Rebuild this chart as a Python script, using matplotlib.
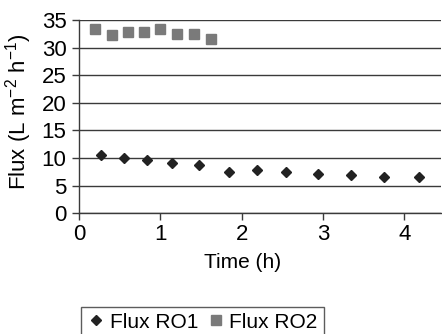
import matplotlib
matplotlib.use("Agg")
import matplotlib.pyplot as plt

plt.rcParams['font.family'] = ['Liberation Sans', 'DejaVu Sans']
plt.rcParams['mathtext.default'] = 'regular'

# Data
time_ro1 = [0.27, 0.55, 0.84, 1.14, 1.47, 1.85, 2.19, 2.55, 2.94, 3.35, 3.75, 4.18]
flux_ro1 = [10.6, 10.0, 9.6, 9.1, 8.7, 7.5, 7.8, 7.5, 7.2, 6.9, 6.6, 6.6]
time_ro2 = [0.20, 0.40, 0.60, 0.80, 1.00, 1.21, 1.41, 1.62]
flux_ro2 = [33.3, 32.2, 32.8, 32.8, 33.4, 32.5, 32.5, 31.6]

series_labels = ['Flux RO1', 'Flux RO2']
x_label = 'Time (h)'
y_label = r'Flux (L m$^{-2}$ h$^{-1}$)'
x_ticks = [0, 1, 2, 3, 4]
y_ticks = [0, 5, 10, 15, 20, 25, 30, 35]

fig = plt.figure(figsize=(4.42, 3.34), dpi=100)
ax = fig.add_axes([79/442, 1 - 213.3/334, 361.8/442, 193.3/334])

ax.plot(time_ro1, flux_ro1, linestyle='none', marker='D', ms=5.3,
        color='#222222', label=series_labels[0], clip_on=False)
ax.plot(time_ro2, flux_ro2, linestyle='none', marker='s', ms=7.2,
        color='#7a7a7a', label=series_labels[1], clip_on=False)

ax.set_xlim(0, 4.45)
ax.set_ylim(0, 35)
ax.set_xticks(x_ticks)
ax.set_yticks(y_ticks)
ax.yaxis.grid(True, color='#3a3a3a', linewidth=1.0)
ax.set_axisbelow(True)
for s in ['top', 'right']:
    ax.spines[s].set_visible(False)
for s in ['left', 'bottom']:
    ax.spines[s].set_color('#3a3a3a')
    ax.spines[s].set_linewidth(1.0)
ax.tick_params(axis='both', labelsize=16, color='#3a3a3a', length=5, width=1.0, pad=4)
ax.tick_params(axis='x', pad=3)

ax.set_xlabel(x_label, fontsize=15)
ax.xaxis.set_label_coords((243 - 79) / 361.8, -0.205)
fig.text(19/442, 1 - 112/334, y_label, fontsize=16, rotation=90,
         ha='center', va='center')

leg = fig.legend(loc='upper center', bbox_to_anchor=(202.5/442, 1 - 306.5/334), ncol=2,
                 fontsize=15, frameon=True, fancybox=False, edgecolor='#333333',
                 handlelength=0.8, handletextpad=0.25, columnspacing=0.45,
                 borderpad=0.3, markerscale=1.0, borderaxespad=0)
leg.get_frame().set_linewidth(1.0)

fig.savefig('out.png', dpi=100)
